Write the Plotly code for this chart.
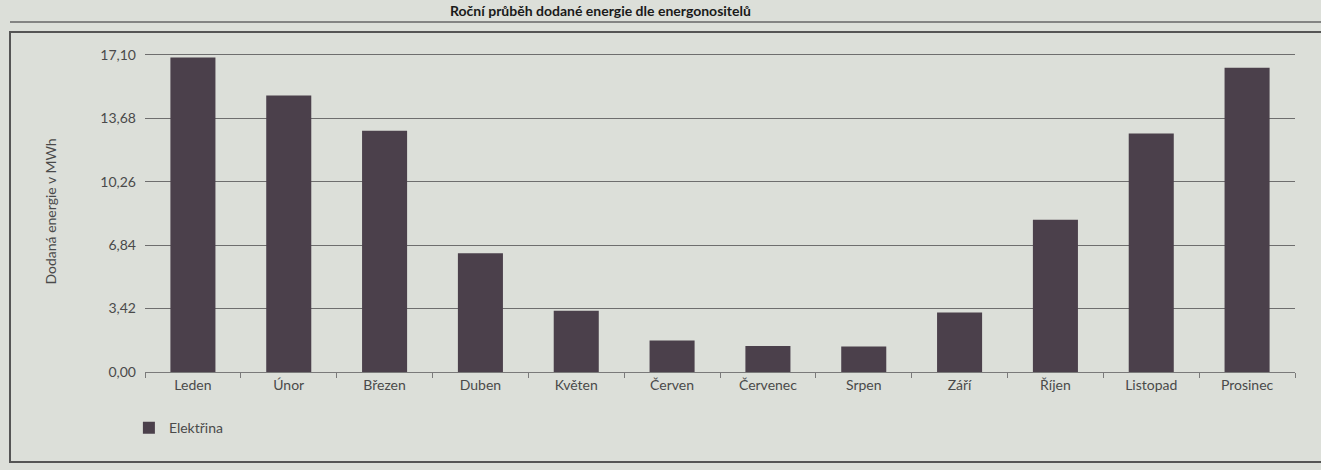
import plotly.graph_objects as go

months = ["Leden", "Únor", "Březen", "Duben", "Květen", "Červen",
          "Červenec", "Srpen", "Září", "Říjen", "Listopad", "Prosinec"]
elektrina = [16.95, 14.90, 13.00, 6.40, 3.30, 1.70, 1.40, 1.38, 3.20, 8.20, 12.85, 16.40]
tick_vals = [0.00, 3.42, 6.84, 10.26, 13.68, 17.10]
tick_text = ["0,00", "3,42", "6,84", "10,26", "13,68", "17,10"]
series_name = "Elektřina"
title_text = "Roční průběh dodané energie dle energonositelů"
y_title = "Dodaná energie v MWh"

W, H = 1321, 470
L, R, T, B = 145, 26, 51, 98
PW, PH = W - L - R, H - T - B

fig = go.Figure()
fig.add_trace(go.Bar(
    x=months, y=elektrina, name=series_name,
    marker=dict(color="#4b404b", line=dict(width=0)),
))

fig.update_layout(
    width=W, height=H,
    margin=dict(l=L, r=R, t=T, b=B),
    paper_bgcolor="#dcdfd9",
    plot_bgcolor="#dcdfd9",
    font=dict(family="Lato, Open Sans, sans-serif", size=14, color="#4a4a4a"),
    bargap=0.53,
    showlegend=True,
    legend=dict(orientation="h", x=-0.014, xanchor="left", y=-0.175, yanchor="middle",
                bgcolor="rgba(0,0,0,0)", font=dict(size=14, color="#4a4a4a")),
    xaxis=dict(
        showgrid=False, showline=True, linecolor="#7a7a7a", linewidth=1,
        ticks="outside", tickson="boundaries", ticklen=5, tickcolor="#7a7a7a",
        tickfont=dict(size=14, color="#4a4a4a"),
    ),
    yaxis=dict(
        range=[0, 17.3], tickvals=tick_vals, ticktext=tick_text,
        showgrid=True, gridcolor="#6e6e6e", gridwidth=1,
        showline=False, zeroline=False, ticks="", ticklabelstandoff=8,
        tickfont=dict(size=14, color="#4a4a4a"),
    ),
    annotations=[
        dict(text=y_title, xref="paper", yref="paper", x=(50 - L) / PW, y=0.5,
             textangle=-90, showarrow=False, font=dict(size=14, color="#4a4a4a"),
             xanchor="center", yanchor="middle"),
        dict(text="<b>" + title_text + "</b>", xref="paper", yref="paper",
             x=(600 - L) / PW, y=1 + (T - 11) / PH, xanchor="center", yanchor="middle",
             showarrow=False, font=dict(size=14, color="#1a1a1a")),
    ],
    shapes=[
        dict(type="rect", xref="paper", yref="paper",
             x0=-(L - 10) / PW, x1=1 + (R + 5) / PW,
             y0=-(B - 8) / PH, y1=1 + (T - 32) / PH,
             line=dict(color="#555555", width=2), fillcolor="rgba(0,0,0,0)", layer="below"),
        dict(type="line", xref="paper", yref="paper",
             x0=-(L - 10) / PW, x1=1 + (R + 5) / PW,
             y0=1 + (T - 22) / PH, y1=1 + (T - 22) / PH,
             line=dict(color="#666666", width=1.5), layer="below"),
    ],
)

fig.write_html("out.html")
